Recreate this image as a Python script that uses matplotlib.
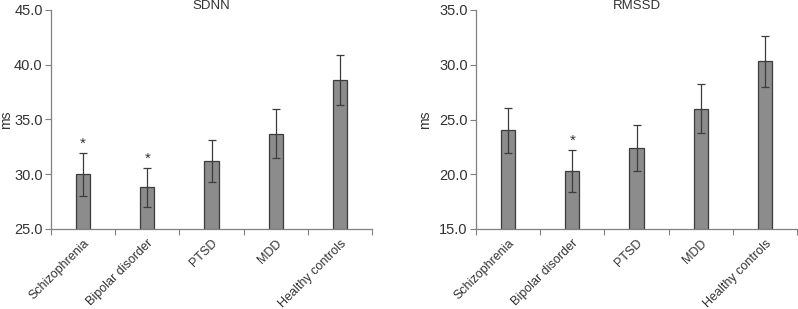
import numpy as np
import matplotlib.pyplot as plt

groups = ["Schizophrenia", "Bipolar disorder", "PTSD", "MDD", "Healthy controls"]

sdnn = [30.0, 28.8, 31.2, 33.7, 38.6]
sdnn_err = [1.95, 1.8, 1.95, 2.25, 2.25]
sdnn_star = [True, True, False, False, False]

rmssd = [24.0, 20.3, 22.4, 26.0, 30.3]
rmssd_err = [2.05, 1.9, 2.1, 2.2, 2.35]
rmssd_star = [False, True, False, False, False]

plt.rcParams['font.family'] = ['Liberation Sans', 'DejaVu Sans']

fig = plt.figure(figsize=(7.98, 3.09), dpi=100)
W, H = 798, 309


def panel(rect, vals, errs, stars, title, ylim, ylab_x):
    ax = fig.add_axes([rect[0] / W, 1 - rect[3] / H, (rect[2] - rect[0]) / W, (rect[3] - rect[1]) / H])
    x = np.arange(len(groups))
    ax.bar(x, vals, width=0.22, color='#8c8c8c', edgecolor='#3c3c3c', linewidth=0.9, zorder=2)
    ax.errorbar(x, vals, yerr=errs, fmt='none', ecolor='#3c3c3c', elinewidth=0.9,
                capsize=3, capthick=0.9, zorder=3)
    for xi, v, e, s in zip(x, vals, errs, stars):
        if s:
            ax.text(xi, v + e + 0.2, '*', ha='center', va='bottom', fontsize=11, color='#333333')
    ax.set_xlim(-0.5, len(groups) - 0.5)
    ax.set_ylim(*ylim)
    ticks = np.arange(ylim[0], ylim[1] + 0.1, 5)
    ax.set_yticks(ticks)
    ax.set_yticklabels([f"{t:.1f}" for t in ticks])
    ax.set_xticks(x)
    ax.set_xticklabels(groups, rotation=45, ha='right', rotation_mode='anchor', fontsize=9, color='#333333')
    ax.set_xticks(np.arange(-0.5, len(groups)), minor=True)
    ax.tick_params(axis='x', which='major', length=0, pad=6)
    ax.tick_params(axis='x', which='minor', length=4, color='#808080', width=0.8)
    ax.tick_params(axis='y', length=4, color='#808080', width=0.8, labelsize=10.5, labelcolor='#333333', pad=2)
    for sp in ['top', 'right']:
        ax.spines[sp].set_visible(False)
    for sp in ['left', 'bottom']:
        ax.spines[sp].set_color('#808080')
        ax.spines[sp].set_linewidth(0.9)
    ax.set_ylabel('ms', fontsize=10, color='#333333')
    ax.yaxis.set_label_coords(ylab_x, 0.5)
    fig.text((rect[0] + rect[2]) / 2 / W, 1 - 6 / H, title, ha='center', va='center',
             fontsize=9.5, color='#333333')
    return ax


panel((51, 10, 372, 229), sdnn, sdnn_err, sdnn_star, 'SDNN', (25, 45), -0.118)
panel((476, 10, 797, 229), rmssd, rmssd_err, rmssd_star, 'RMSSD', (15, 35), -0.137)

fig.savefig('out.png', dpi=100, facecolor='white')
